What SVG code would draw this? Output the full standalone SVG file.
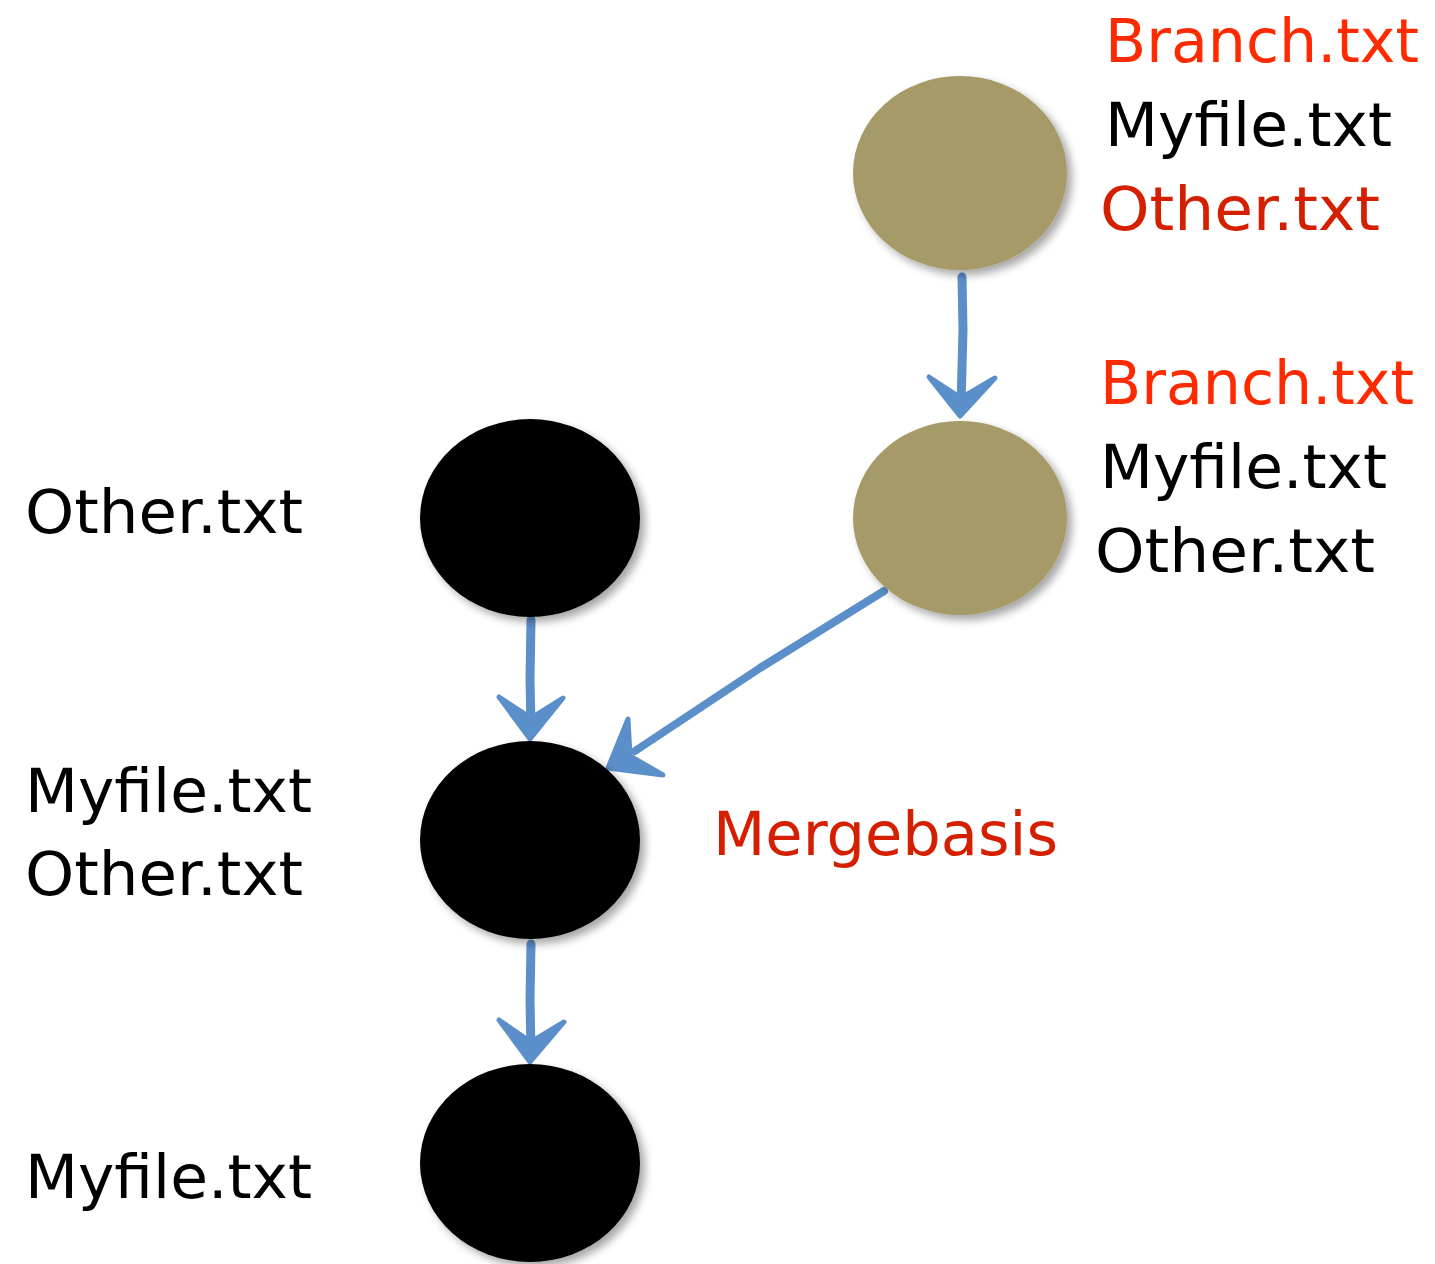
<svg xmlns="http://www.w3.org/2000/svg" width="1435" height="1264" viewBox="0 0 1435 1264">
<style>
.t{font-family:"DejaVu Sans","Liberation Sans",sans-serif;font-size:60px}
.blk{fill:#000}
.red{fill:#FF2A00}
.dred{fill:#D42000}
.olive{fill:#A59A68}
.black{fill:#000}
.arr{fill:none;stroke:#5B8FC9;stroke-linecap:round;stroke-linejoin:round}
.head{fill:#5B8FC9;stroke:#5B8FC9;stroke-width:5;stroke-linejoin:round;stroke-linecap:round}
</style>
<defs>
<filter id="sh" x="-20%" y="-20%" width="140%" height="140%">
<feDropShadow dx="5" dy="5" stdDeviation="4" flood-color="#000" flood-opacity="0.35"/>
</filter>
</defs>
<rect width="1435" height="1264" fill="#fff"/>
<g id="connectors">
<g id="e1">
<path class="arr" stroke-width="9" d="M962,277 L963,330 L961,405"/>
<path class="head" d="M929,377 L960,416 L995,378 L961,398 Z"/>
</g>
<g id="e2">
<path class="arr" stroke-width="9" d="M531,620 L530,680 L531,728"/>
<path class="head" d="M499,697 L530,739 L563,698 L531,718 Z"/>
</g>
<g id="e3">
<path class="arr" stroke-width="9" d="M531,944 L530,1000 L531,1050"/>
<path class="head" d="M499,1020 L530,1062 L564,1022 L531,1042 Z"/>
</g>
<g id="e4">
<path class="arr" stroke-width="8" d="M884,591 L760,668 L635,751"/>
<path class="head" d="M628,719 L608,768 L663,775 L630,756 Z"/>
</g>
</g>
<g id="n1"><ellipse class="olive" filter="url(#sh)" cx="960" cy="173" rx="107" ry="97"/></g>
<g id="n2"><ellipse class="olive" filter="url(#sh)" cx="960" cy="518" rx="107" ry="97"/></g>
<g id="n3"><ellipse class="black" filter="url(#sh)" cx="530" cy="518" rx="110" ry="99"/></g>
<g id="n4"><ellipse class="black" filter="url(#sh)" cx="530" cy="840" rx="110" ry="99"/></g>
<g id="n5"><ellipse class="black" filter="url(#sh)" cx="530" cy="1163" rx="110" ry="99"/></g>
<g id="labels">
<text class="t red" x="1105" y="62" textLength="314" lengthAdjust="spacingAndGlyphs">Branch.txt</text>
<text class="t blk" x="1105" y="146" textLength="287" lengthAdjust="spacingAndGlyphs">Myfile.txt</text>
<text class="t dred" x="1100" y="230" textLength="280" lengthAdjust="spacingAndGlyphs">Other.txt</text>
<text class="t red" x="1100" y="404" textLength="314" lengthAdjust="spacingAndGlyphs">Branch.txt</text>
<text class="t blk" x="1100" y="488" textLength="287" lengthAdjust="spacingAndGlyphs">Myfile.txt</text>
<text class="t blk" x="1095" y="572" textLength="280" lengthAdjust="spacingAndGlyphs">Other.txt</text>
<text class="t blk" x="25" y="533" textLength="278" lengthAdjust="spacingAndGlyphs">Other.txt</text>
<text class="t blk" x="25" y="812" textLength="287" lengthAdjust="spacingAndGlyphs">Myfile.txt</text>
<text class="t blk" x="25" y="895" textLength="278" lengthAdjust="spacingAndGlyphs">Other.txt</text>
<text class="t blk" x="25" y="1198" textLength="287" lengthAdjust="spacingAndGlyphs">Myfile.txt</text>
<text class="t dred" x="713" y="855" textLength="345" lengthAdjust="spacingAndGlyphs">Mergebasis</text>
</g>
</svg>
